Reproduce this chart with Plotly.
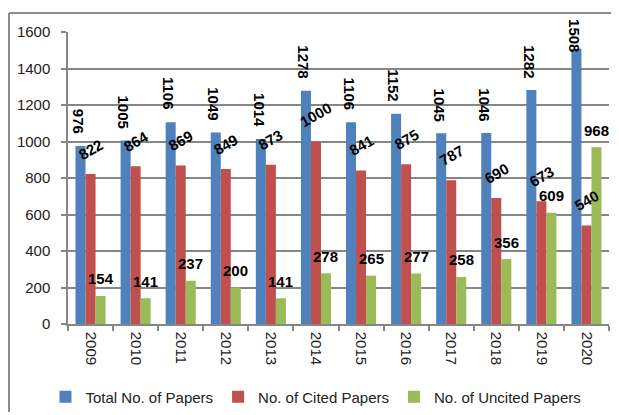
import plotly.graph_objects as go

years = ["2009", "2010", "2011", "2012", "2013", "2014", "2015", "2016", "2017", "2018", "2019", "2020"]
total_papers = [976, 1005, 1106, 1049, 1014, 1278, 1106, 1152, 1045, 1046, 1282, 1508]
cited_papers = [822, 864, 869, 849, 873, 1000, 841, 875, 787, 690, 673, 540]
uncited_papers = [154, 141, 237, 200, 141, 278, 265, 277, 258, 356, 609, 968]

series_names = ["Total No. of Papers", "No. of Cited Papers", "No. of Uncited Papers"]
colors = ["#4F81BD", "#C0504D", "#9BBB59"]

FONT = "Liberation Sans"
OFF = 8  # page body margin offset
W, H = 619 - OFF, 415 - OFF
# target pixel positions in the page
PL, PR, PT, PB = 68, 609, 32, 324
ML, MR, MT, MB = PL - OFF, W - (PR - OFF), PT - OFF, H - (PB - OFF)
PW = PR - PL
PH = PB - PT
YMAX = 1600
LABEL_TOP_LIMIT = 18  # labels may not rise above this page pixel (chart area edge)


def px_x(p):
    return (p - PL) / PW


def px_y(p):
    return (PB - p) / PH


fig = go.Figure()
for name, vals, col in zip(series_names, [total_papers, cited_papers, uncited_papers], colors):
    fig.add_trace(go.Bar(x=years, y=vals, name=name, marker=dict(color=col, line=dict(width=0))))

annotations = []
lab_font = dict(family=FONT, size=15, color="black", weight="bold")
for i, v in enumerate(total_papers):
    txt = str(v)
    est_len = len(txt) * 8.4 + 1
    bar_top_px = PB - v / YMAX * PH
    if bar_top_px - 11 - est_len < LABEL_TOP_LIMIT:
        # keep label inside the chart area, like the original
        annotations.append(dict(x=i, y=px_y(LABEL_TOP_LIMIT), xref="x", yref="paper", text=txt,
                                showarrow=False, textangle=90, xanchor="center", yanchor="top",
                                xshift=-12, font=lab_font, borderpad=0))
    else:
        annotations.append(dict(x=i, y=v, xref="x", yref="y", text=txt, showarrow=False,
                                textangle=90, xanchor="center", yanchor="bottom", yshift=11, xshift=-12,
                                font=lab_font, borderpad=0))
for i, v in enumerate(cited_papers):
    annotations.append(dict(x=i, y=v, xref="x", yref="y", text=str(v), showarrow=False,
                            textangle=-30, xanchor="center", yanchor="bottom", yshift=10, xshift=0,
                            font=lab_font, borderpad=0))
for i, v in enumerate(uncited_papers):
    annotations.append(dict(x=i, y=v, xref="x", yref="y", text=str(v), showarrow=False,
                            textangle=0, xanchor="center", yanchor="middle", yshift=17, xshift=10,
                            font=lab_font, borderpad=0))

border = dict(color="#8C8C8C", width=2)
shapes = [
    dict(type="line", xref="paper", yref="paper", x0=px_x(9), x1=px_x(9), y0=px_y(13), y1=px_y(412), line=border),
    dict(type="line", xref="paper", yref="paper", x0=px_x(9), x1=px_x(640), y0=px_y(13), y1=px_y(13), line=border),
]

fig.update_layout(
    width=W, height=H,
    margin=dict(l=ML, r=MR, t=MT, b=MB, autoexpand=False),
    paper_bgcolor="white", plot_bgcolor="white",
    barmode="group", bargap=0.333, bargroupgap=0,
    font=dict(family=FONT, size=14, color="#222222"),
    showlegend=True,
    legend=dict(orientation="h", x=px_x(316), xanchor="center", y=px_y(397), yanchor="middle",
                font=dict(family=FONT, size=15, color="#222222"), itemwidth=30,
                bgcolor="rgba(0,0,0,0)"),
    annotations=annotations,
    shapes=shapes,
)
fig.update_xaxes(type="category", range=[-0.5, len(years) - 0.5], tickangle=90, showline=True,
                 linecolor="#868686", linewidth=1.5,
                 ticks="outside", ticklen=5, tickcolor="#868686", tickwidth=1.5, tickson="boundaries",
                 showgrid=False, tickfont=dict(family=FONT, size=15, color="#222222"), ticklabelstandoff=3)
fig.update_yaxes(range=[0, YMAX], dtick=200, showline=True, linecolor="#868686", linewidth=1.5,
                 ticks="outside", ticklen=5, tickcolor="#868686", tickwidth=1.5,
                 showgrid=True, gridcolor="#868686", gridwidth=1.5, zeroline=False,
                 tickfont=dict(family=FONT, size=15, color="#222222"), ticklabelstandoff=8)

fig.write_html("out.html")
